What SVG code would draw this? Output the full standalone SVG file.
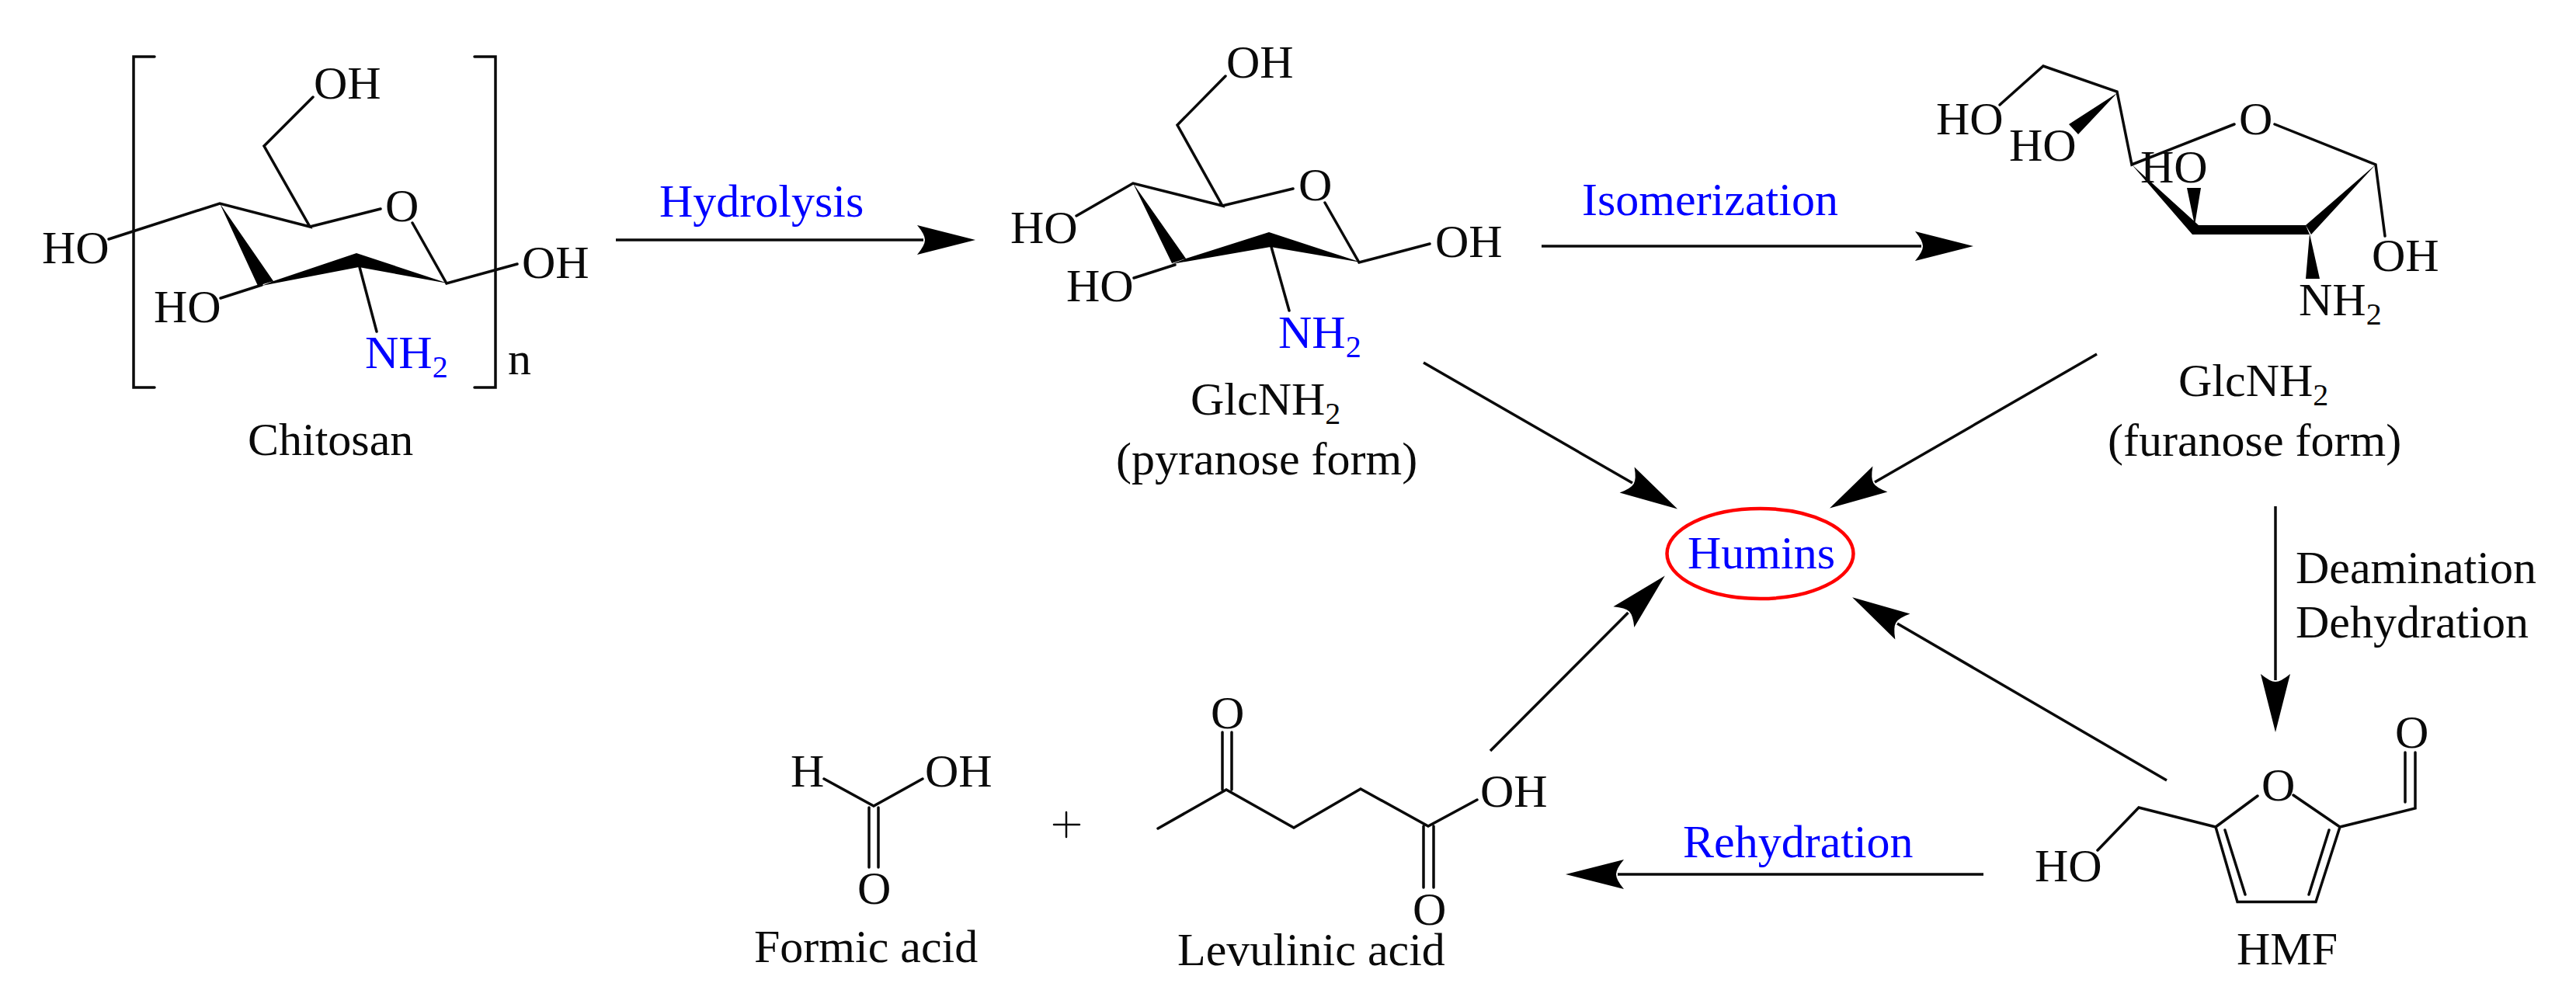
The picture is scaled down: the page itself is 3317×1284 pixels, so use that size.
<svg xmlns="http://www.w3.org/2000/svg" width="3317" height="1284" viewBox="0 0 3317 1284">
<style>
text{font-family:"Liberation Serif","Times New Roman",serif;font-size:60px;fill:#0a0a0a}
.b{fill:#0000ff}
.s{font-size:40px}
.l{fill:none;stroke:#0a0a0a;stroke-width:3.5;stroke-linecap:round;stroke-linejoin:miter}
.w{fill:#000;stroke:none}
.a{fill:none;stroke:#0a0a0a;stroke-width:3.5;marker-end:url(#h)}
</style>
<defs>
<marker id="h" markerUnits="userSpaceOnUse" markerWidth="76" markerHeight="40" viewBox="0 0 76 40" refX="8" refY="20" orient="auto" overflow="visible"><path d="M75,20L0,1Q10,13 10,20Q10,27 0,39Z" fill="#000"/></marker>
</defs>
<rect width="3317" height="1284" fill="#fff"/>
<g id="connectors">
<line class="a" x1="793" y1="309" x2="1189" y2="309"/>
<line class="a" x1="1985" y1="317" x2="2474" y2="317"/>
<line class="a" x1="1833" y1="467" x2="2102" y2="622"/>
<line class="a" x1="2700" y1="456" x2="2414" y2="621"/>
<line class="a" x1="2930" y1="652" x2="2930" y2="876"/>
<line class="a" x1="2790" y1="1005" x2="2443" y2="803"/>
<line class="a" x1="1919" y1="967" x2="2096.500" y2="789"/>
<line class="a" x1="2554" y1="1126" x2="2083" y2="1126"/>
</g>
<g id="label-hydrolysis"><text class="b" x="849" y="279">Hydrolysis</text></g>
<g id="label-isomerization"><text class="b" x="2037" y="277">Isomerization</text></g>
<g id="label-rehydration"><text class="b" x="2167" y="1104">Rehydration</text></g>
<g id="label-deamination"><text x="2956" y="751">Deamination</text><text x="2956" y="821">Dehydration</text></g>
<g id="chitosan">
<path class="l" d="M199,73H172V499H199M611,73H638V499H611"/>
<path class="l" d="M140,308L283,262L399,292L340,188L403,125M399,292L490,269M531,287L575,365L666,340M337,367L284,384M463,344L485,427"/>
<path class="w" d="M283,262L332,368L352,362ZM352,362L459,326L462,344L337,368ZM459,326L577,365L462,344Z"/>
<text x="404" y="127">OH</text><text x="54" y="339">HO</text><text x="198" y="415">HO</text><text x="672" y="358">OH</text><text x="496" y="285">O</text>
<text class="b" x="470" y="474">NH<tspan class="s b" dy="12">2</tspan></text>
<text x="654" y="482">n</text><text x="319" y="586">Chitosan</text>
</g>
<g id="glcnh2-pyranose">
<path class="l" d="M1386,278L1459,236L1574,265L1516,161L1578,98M1574,265L1665,243M1706,261L1750,338L1841,314M1513,341L1460,358M1637,318L1660,400"/>
<path class="w" d="M1459,236L1509,339L1527,333ZM1527,333L1634,299L1636,318L1509,340ZM1634,299L1753,338L1636,318Z"/>
<text x="1579" y="100">OH</text><text x="1672" y="258">O</text><text x="1848" y="331">OH</text><text x="1301" y="313">HO</text><text x="1373" y="388">HO</text>
<text class="b" x="1646" y="448">NH<tspan class="s b" dy="12">2</tspan></text>
<text x="1533" y="534">GlcNH<tspan class="s" dy="12">2</tspan></text>
<text x="1437" y="611">(pyranose form)</text>
</g>
<g id="glcnh2-furanose">
<path class="l" d="M2575,135L2631,85L2726,118L2745,212L2877,160M2929,160L3059,212L3071,304"/>
<path class="w" d="M2726,120L2664,160L2676,173ZM2745,212L2831,290L2823,302ZM2830,290H2969L2974,302H2823ZM3059,212L2969,290L2976,302ZM2974,301L2969,359H2987ZM2826,290L2816,242H2834Z"/>
<text x="2493" y="173">HO</text><text x="2587" y="207">HO</text><text x="2756" y="235">HO</text><text x="2883" y="173">O</text><text x="3054" y="349">OH</text>
<text x="2960" y="406">NH<tspan class="s" dy="12">2</tspan></text>
<text x="2805" y="510">GlcNH<tspan class="s" dy="12">2</tspan></text>
<text x="2714" y="587">(furanose form)</text>
</g>
<g id="humins">
<ellipse cx="2266.500" cy="713" rx="120" ry="58" fill="none" stroke="#ff0000" stroke-width="4.500"/>
<text class="b" x="2173" y="732">Humins</text>
</g>
<g id="hmf">
<path class="l" d="M2701,1095L2754,1040L2853,1065L2907,1025M2953,1024L3013,1065L2982,1161.500H2881L2853,1065M2865,1069L2891,1152M2999,1069L2973,1152M3013,1065L3110,1041V969M3097,1033V969"/>
<text x="2620" y="1135">HO</text><text x="2912" y="1031">O</text><text x="3084" y="963">O</text><text x="2880" y="1242">HMF</text>
</g>
<g id="formic-acid">
<path class="l" d="M1061,1003L1125,1038L1188,1003M1119,1040V1117M1131,1040V1117"/>
<text x="1018" y="1013">H</text><text x="1191" y="1013">OH</text><text x="1104" y="1164">O</text><text x="971" y="1239">Formic acid</text>
</g>
<g id="plus"><path class="l" style="stroke-width:2.500" d="M1357,1062H1390M1373,1046V1078"/></g>
<g id="levulinic-acid">
<path class="l" d="M1491,1067L1579,1017L1666,1066L1752,1016L1839,1064L1902,1030M1574,943V1017M1586,943V1017M1833,1064V1143M1846,1064V1143"/>
<text x="1559" y="938">O</text><text x="1906" y="1039">OH</text><text x="1819" y="1191">O</text><text x="1516" y="1243">Levulinic acid</text>
</g>
</svg>
